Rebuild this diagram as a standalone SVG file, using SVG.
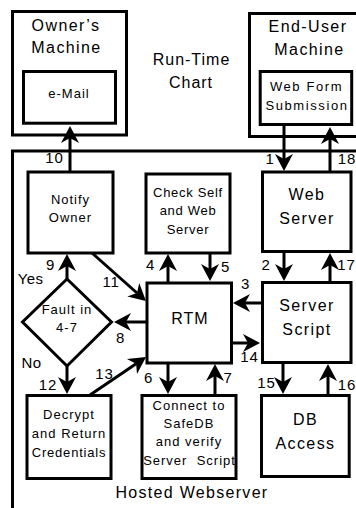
<svg xmlns="http://www.w3.org/2000/svg" width="356" height="508" viewBox="0 0 356 508">
<style>
text{font-family:"Liberation Sans",Arial,Helvetica,sans-serif;fill:#000;text-anchor:middle}
.big{font-size:16px;letter-spacing:1.4px}
.sm{font-size:13px;letter-spacing:1px}
.num{font-size:15px;letter-spacing:0.8px}
.box{fill:#fff;stroke:#000;stroke-width:3}
.frame{fill:none;stroke:#000;stroke-width:3}
.ln{fill:none;stroke:#000;stroke-width:3}
.ar{marker-end:url(#ah)}
</style>
<defs>
<marker id="ah" markerUnits="userSpaceOnUse" viewBox="-6 -10 20 20" markerWidth="20" markerHeight="20" refX="0" refY="0" orient="auto">
<path d="M12,0 L-5,-9 L0,0 L-5,9 Z" fill="#000"/>
</marker>
</defs>
<rect width="356" height="508" fill="#fff"/>

<g id="hosted">
<rect class="frame" x="12.5" y="151" width="400" height="420"/>
<text class="big" x="192" y="498" style="letter-spacing:1.3px">Hosted Webserver</text>
</g>

<g id="title">
<text class="big" x="191.5" y="65" style="letter-spacing:1px">Run-Time</text>
<text class="big" x="191" y="88" style="letter-spacing:1px">Chart</text>
</g>

<g id="owner-machine">
<rect class="frame" x="12.5" y="11.5" width="114" height="123.5"/>
<text class="big" x="66" y="31">Owner’s</text>
<text class="big" x="66.5" y="53">Machine</text>
</g>
<g id="email">
<rect class="box" x="23.5" y="71.5" width="92" height="51.7"/>
<text class="sm" x="69" y="98">e-Mail</text>
</g>

<g id="enduser-machine">
<rect class="frame" x="249.5" y="13.5" width="150" height="123"/>
<text class="big" x="308" y="31.5">End-User</text>
<text class="big" x="309.5" y="54.5">Machine</text>
</g>
<g id="webform">
<rect class="box" x="260.2" y="71.5" width="91.5" height="53"/>
<text class="sm" x="306.5" y="91" style="letter-spacing:1.6px">Web Form</text>
<text class="sm" x="307" y="110" style="letter-spacing:1.6px">Submission</text>
</g>

<g id="notify">
<rect class="box" x="28" y="172" width="85" height="81"/>
<text class="sm" x="70.5" y="204">Notify</text>
<text class="sm" x="70.5" y="222">Owner</text>
</g>

<g id="checkself">
<rect class="box" x="146" y="174" width="84" height="79"/>
<text class="sm" x="188" y="197" style="letter-spacing:0.7px">Check Self</text>
<text class="sm" x="188" y="215" style="letter-spacing:0.7px">and Web</text>
<text class="sm" x="188" y="233.5" style="letter-spacing:0.7px">Server</text>
</g>

<g id="webserver">
<rect class="box" x="262.5" y="172" width="88.5" height="79.5"/>
<text class="big" x="307" y="200">Web</text>
<text class="big" x="307" y="224">Server</text>
</g>

<g id="rtm">
<rect class="box" x="147" y="283" width="84.5" height="80"/>
<text class="big" x="190" y="323.5" style="letter-spacing:1px">RTM</text>
</g>

<g id="serverscript">
<rect class="box" x="262.5" y="282.5" width="88.5" height="80"/>
<text class="big" x="307" y="311">Server</text>
<text class="big" x="307" y="335">Script</text>
</g>

<g id="fault">
<polygon class="box" points="67,279 111.5,322 67,366 22.5,322"/>
<text class="sm" x="67" y="314">Fault in</text>
<text class="sm" x="67" y="332">4-7</text>
</g>

<g id="decrypt">
<rect class="box" x="27" y="395.5" width="84" height="83"/>
<text class="sm" x="69" y="418.5">Decrypt</text>
<text class="sm" x="69" y="437.5">and Return</text>
<text class="sm" x="69" y="456.5" style="letter-spacing:0.8px">Credentials</text>
</g>

<g id="connect">
<rect class="box" x="142" y="395.5" width="94" height="83"/>
<text class="sm" x="189" y="409.5">Connect to</text>
<text class="sm" x="189" y="427.5">SafeDB</text>
<text class="sm" x="189" y="446">and verify</text>
<text class="sm" x="189.5" y="464.5" xml:space="preserve">Server  Script</text>
</g>

<g id="dbaccess">
<rect class="box" x="261.5" y="395.5" width="87.7" height="81"/>
<text class="big" x="305.5" y="425">DB</text>
<text class="big" x="305.5" y="449">Access</text>
</g>

<g id="connectors">
<line class="ln ar" x1="70" y1="172" x2="70" y2="138"/>
<line class="ln ar" x1="284" y1="126" x2="284" y2="159"/>
<line class="ln ar" x1="330" y1="172" x2="330" y2="139"/>
<line class="ln ar" x1="284" y1="252" x2="284" y2="269"/>
<line class="ln ar" x1="330" y1="282" x2="330" y2="265"/>
<line class="ln ar" x1="168" y1="283" x2="168" y2="266"/>
<line class="ln ar" x1="210" y1="253" x2="210" y2="269"/>
<line class="ln ar" x1="262" y1="303" x2="245" y2="303"/>
<line class="ln ar" x1="231" y1="343" x2="248" y2="343"/>
<line class="ln ar" x1="168" y1="363" x2="168" y2="382"/>
<line class="ln ar" x1="215" y1="396" x2="215" y2="376"/>
<line class="ln ar" x1="283" y1="363" x2="283" y2="382"/>
<line class="ln ar" x1="328" y1="396" x2="328" y2="376"/>
<line class="ln ar" x1="67" y1="279" x2="67" y2="266"/>
<line class="ln ar" x1="147" y1="322" x2="126" y2="322"/>
<line class="ln ar" x1="67" y1="366" x2="67" y2="382"/>
<line class="ln ar" x1="92" y1="253" x2="137" y2="293"/>
<line class="ln ar" x1="90" y1="395" x2="136.1" y2="363.7"/>
<text class="num" x="54.5" y="163">10</text>
<text class="num" x="270" y="164">1</text>
<text class="num" x="347" y="164">18</text>
<text class="num" x="266" y="269.5">2</text>
<text class="num" x="346.5" y="269.5">17</text>
<text class="num" x="150.5" y="269.5">4</text>
<text class="num" x="225.5" y="271.5">5</text>
<text class="num" x="245.5" y="289">3</text>
<text class="num" x="50.5" y="270">9</text>
<text class="num" x="30.5" y="284" style="letter-spacing:0.3px">Yes</text>
<text class="num" x="111" y="286.5">11</text>
<text class="num" x="120.5" y="343">8</text>
<text class="num" x="31.5" y="367.5" style="letter-spacing:0.3px">No</text>
<text class="num" x="104.5" y="378.5">13</text>
<text class="num" x="48" y="390">12</text>
<text class="num" x="148.5" y="382.5">6</text>
<text class="num" x="228" y="382.5">7</text>
<text class="num" x="249.5" y="361.5">14</text>
<text class="num" x="266.5" y="388">15</text>
<text class="num" x="347" y="390">16</text>
</g>
</svg>
